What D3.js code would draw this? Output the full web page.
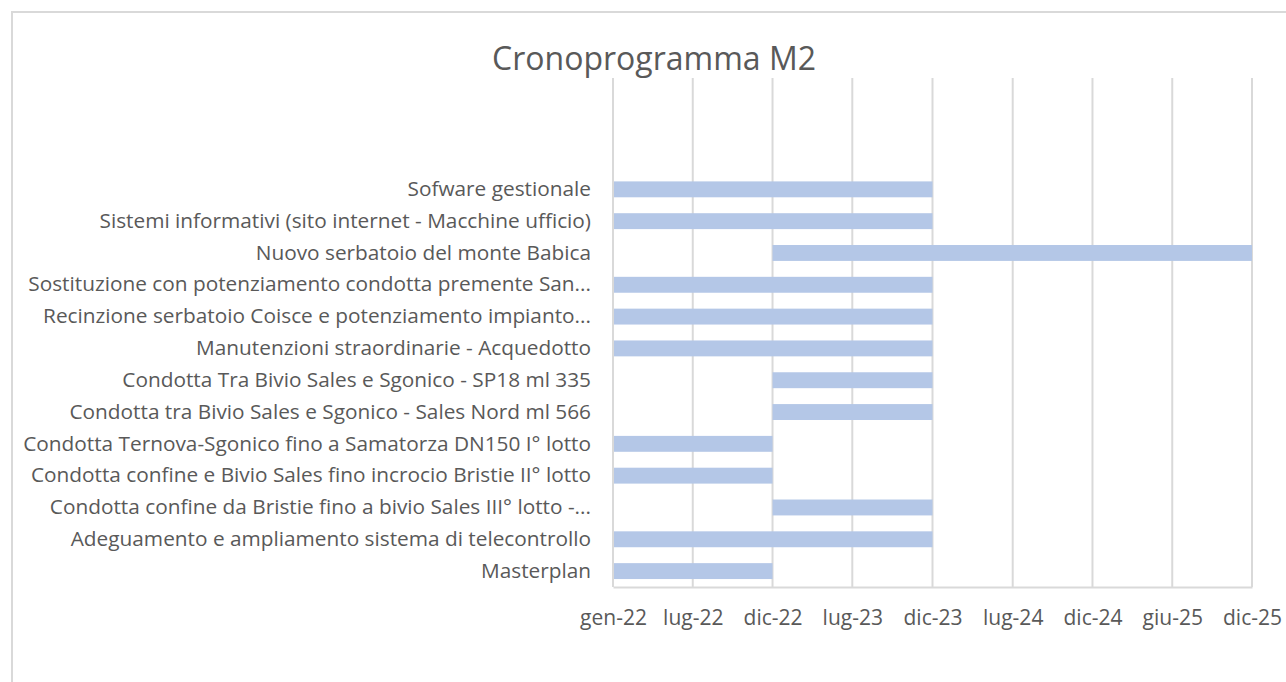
<!DOCTYPE html>
<html>
<head>
<meta charset="utf-8">
<script src="https://cdn.jsdelivr.net/npm/d3@7"></script>
<style>
  body { margin: 0; background: #fff; }
  text { font-family: "Open Sans", sans-serif; fill: #595959; }
</style>
</head>
<body>
<script>
var w = 1286;
var h = 682;

// tasks, top to bottom
var tasks = [
  "Sofware gestionale",
  "Sistemi informativi (sito internet - Macchine ufficio)",
  "Nuovo serbatoio del monte Babica",
  "Sostituzione con potenziamento condotta premente San...",
  "Recinzione serbatoio Coisce e potenziamento impianto...",
  "Manutenzioni straordinarie - Acquedotto",
  "Condotta Tra Bivio Sales e Sgonico - SP18 ml 335",
  "Condotta tra Bivio Sales e Sgonico - Sales Nord ml 566",
  "Condotta Ternova-Sgonico fino a Samatorza DN150 I° lotto",
  "Condotta confine e Bivio Sales fino incrocio Bristie II° lotto",
  "Condotta confine da Bristie fino a bivio Sales III° lotto -...",
  "Adeguamento e ampliamento sistema di telecontrollo",
  "Masterplan"
];
var starts = ["2022-01-01", "2022-01-01", "2022-12-31", "2022-01-01", "2022-01-01",
  "2022-01-01", "2022-12-31", "2022-12-31", "2022-01-01", "2022-01-01",
  "2022-12-31", "2022-01-01", "2022-01-01"];
var ends = ["2023-12-31", "2023-12-31", "2025-12-29", "2023-12-31", "2023-12-31",
  "2023-12-31", "2023-12-31", "2023-12-31", "2022-12-31", "2022-12-31",
  "2023-12-31", "2023-12-31", "2022-12-31"];

var tickDates = ["2022-01-01", "2022-07-02", "2022-12-31", "2023-07-01", "2023-12-31",
  "2024-07-01", "2024-12-30", "2025-06-30", "2025-12-29"];
var tickLabels = ["gen-22", "lug-22", "dic-22", "lug-23", "dic-23",
  "lug-24", "dic-24", "giu-25", "dic-25"];

var parse = d3.utcParse("%Y-%m-%d");
var data = tasks.map(function(t, i) {
  return { task: t, start: parse(starts[i]), end: parse(ends[i]) };
});
var ticks = tickDates.map(parse);

var pLeft = 613, pRight = 1252, pTop = 78, pBottom = 587;
var step = (pBottom - pTop) / 16; // three empty slots above the tasks

var x = d3.scaleUtc()
  .domain([ticks[0], ticks[ticks.length - 1]])
  .range([pLeft, pRight]);

var y = d3.scaleBand()
  .domain(tasks)
  .range([pTop + 3 * step, pBottom])
  .paddingInner(0.5)
  .paddingOuter(0.25);

var svg = d3.select("body").append("svg")
  .attr("width", w)
  .attr("height", h);

// chart border
svg.append("rect")
  .attr("x", 12).attr("y", 12)
  .attr("width", 1320).attr("height", 720)
  .attr("fill", "none")
  .attr("stroke", "#d9d9d9")
  .attr("stroke-width", 2);

svg.append("text")
  .attr("x", 654).attr("y", 70)
  .attr("text-anchor", "middle")
  .attr("font-size", "32px")
  .text("Cronoprogramma M2");

// gridlines
svg.append("g")
  .selectAll("line")
  .data(ticks)
  .enter()
  .append("line")
  .attr("x1", function(d) { return x(d); })
  .attr("x2", function(d) { return x(d); })
  .attr("y1", pTop)
  .attr("y2", pBottom)
  .attr("stroke", "#d9d9d9")
  .attr("stroke-width", 2);

// bars
svg.append("g")
  .selectAll("rect")
  .data(data)
  .enter()
  .append("rect")
  .attr("x", function(d) { return x(d.start); })
  .attr("y", function(d) { return y(d.task); })
  .attr("width", function(d) { return x(d.end) - x(d.start); })
  .attr("height", y.bandwidth())
  .attr("fill", "#b4c7e7");

// x axis
var xAxis = d3.axisBottom(x)
  .tickValues(ticks)
  .tickSize(0)
  .tickPadding(23)
  .tickFormat(function(d, i) { return tickLabels[i]; });

var gx = svg.append("g")
  .attr("transform", "translate(0," + pBottom + ")")
  .call(xAxis);
gx.select(".domain").attr("stroke", "#d9d9d9").attr("stroke-width", 2);
gx.selectAll("text")
  .attr("font-family", "Open Sans")
  .attr("font-size", "21px")
  .attr("fill", "#595959");

// y axis
var yAxis = d3.axisLeft(y).tickSize(0).tickPadding(22);
var gy = svg.append("g")
  .attr("transform", "translate(" + pLeft + ",0)")
  .call(yAxis);
gy.select(".domain").remove();
svg.append("line")
  .attr("x1", pLeft).attr("x2", pLeft)
  .attr("y1", pTop).attr("y2", pBottom)
  .attr("stroke", "#d9d9d9").attr("stroke-width", 2);
gy.selectAll("text")
  .attr("font-family", "Open Sans")
  .attr("font-size", "20.8px")
  .attr("fill", "#595959");
</script>
</body>
</html>
